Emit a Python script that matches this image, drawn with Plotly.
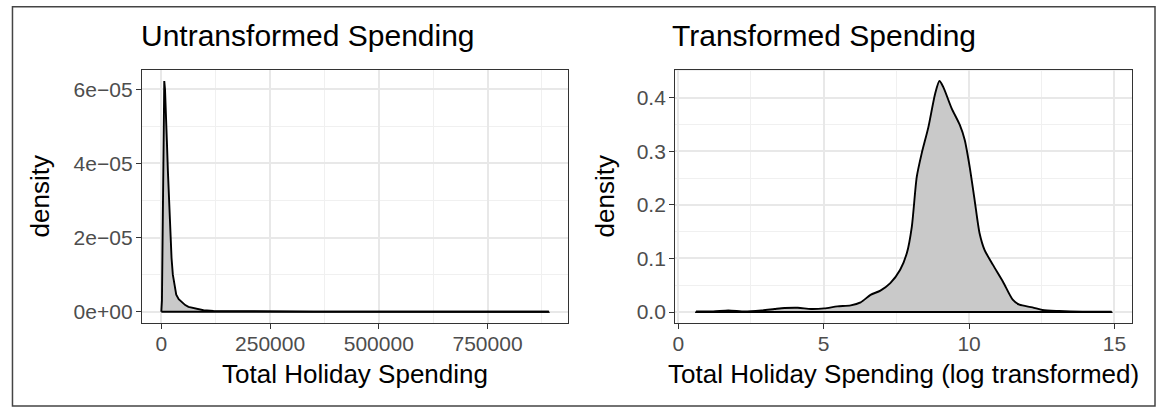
import plotly.graph_objects as go

# Density of total holiday spending (raw dollars)
raw_x = [2, 1400, 3500, 5500, 6800, 8500, 10500, 12800, 15100, 17800, 20600,
         23500, 26500, 30000, 34300, 40000, 47100, 55000, 62400, 74000, 82000,
         90000, 97000, 120000, 150000, 200000, 260000, 350000, 450000, 550000,
         650000, 750000, 891000]
raw_density = [0.0, 0.3e-5, 2.6e-5, 5.2e-5, 6.22e-5, 6.0e-5, 5.5e-5, 4.6e-5,
               3.8e-5, 2.9e-5, 2.05e-5, 1.45e-5, 1.0e-5, 0.7e-5, 0.46e-5,
               0.34e-5, 0.26e-5, 0.18e-5, 0.13e-5, 0.1e-5, 0.09e-5, 0.06e-5,
               0.04e-5, 0.025e-5, 0.02e-5, 0.012e-5, 0.008e-5, 0.005e-5,
               0.003e-5, 0.002e-5, 0.0015e-5, 0.001e-5, 0.0005e-5]

# Density of log-transformed spending
log_x = [0.61, 1.2, 1.72, 2.29, 2.86, 3.31, 3.65, 4.11, 4.56, 5.02, 5.47, 5.93,
         6.27, 6.61, 6.95, 7.29, 7.63, 7.86, 8.03, 8.20, 8.37, 8.60, 8.83,
         8.98, 9.11, 9.40, 9.68, 9.85, 10.02, 10.19, 10.36, 10.53, 10.82,
         11.16, 11.50, 11.73, 12.18, 12.52, 13.09, 13.89, 14.90]
log_density = [0.001, 0.001, 0.003, 0.001, 0.003, 0.0056, 0.0074, 0.008,
               0.0056, 0.0068, 0.0105, 0.0124, 0.018, 0.032, 0.040, 0.054,
               0.079, 0.110, 0.159, 0.252, 0.296, 0.345, 0.407, 0.431, 0.420,
               0.380, 0.349, 0.321, 0.271, 0.209, 0.147, 0.116, 0.088, 0.057,
               0.023, 0.0136, 0.0087, 0.0037, 0.0019, 0.0006, 0.0005]

raw_ticks = [0, 250000, 500000, 750000]
raw_tick_text = ["0", "250000", "500000", "750000"]
raw_y_ticks = [0, 2e-5, 4e-5, 6e-5]
raw_y_text = ["0e+00", "2e\u221205", "4e\u221205", "6e\u221205"]
log_ticks = [0, 5, 10, 15]
log_y_ticks = [0.0, 0.1, 0.2, 0.3, 0.4]
log_y_text = ["0.0", "0.1", "0.2", "0.3", "0.4"]

W, H = 1159, 407
FONT = "Liberation Sans, Arial, sans-serif"
FILL = "#C9C9C9"


def px(x):
    return x / W


def py(y):
    return 1 - y / H


def expanded(vals, lo=None):
    lo = min(vals) if lo is None else lo
    hi = max(vals)
    span = hi - lo
    return [lo - 0.05 * span, hi + 0.05 * span]


fig = go.Figure()

curves = [(raw_x, raw_density, "", "linear"), (log_x, log_density, "2", "spline")]
for xs, ys, ax, shape in curves:
    # shaded area under the density curve
    fig.add_trace(go.Scatter(
        x=xs, y=ys, mode="lines", fill="tozeroy", fillcolor=FILL,
        line=dict(color="black", width=1.9, shape=shape, smoothing=0.7),
        hoverinfo="skip", showlegend=False, xaxis="x" + ax, yaxis="y" + ax))
    # baseline of the density polygon
    fig.add_trace(go.Scatter(
        x=[xs[0], xs[0], xs[-1], xs[-1]], y=[ys[0], 0, 0, ys[-1]],
        mode="lines", line=dict(color="black", width=1.9),
        hoverinfo="skip", showlegend=False, xaxis="x" + ax, yaxis="y" + ax))

panel_top, panel_bot = 69.5, 323.3
dom1 = [px(139.3), px(566.7)]
dom2 = [px(674.0), px(1132.3)]
ydom = [py(panel_bot), py(panel_top)]

axis_common = dict(
    showline=True, mirror=True, linecolor="#333333", linewidth=1.3,
    ticks="outside", ticklen=5, tickcolor="#333333", tickwidth=1.2,
    showgrid=True, gridcolor="#E8E8E8", gridwidth=1.5, zeroline=False,
    tickfont=dict(family=FONT, size=21, color="#4D4D4D"),
    fixedrange=True,
)
minor_common = dict(showgrid=True, gridcolor="#F0F0F0", gridwidth=1.0, ticks="")

fig.update_layout(
    width=W, height=H, margin=dict(l=0, r=0, t=0, b=0),
    paper_bgcolor="white", plot_bgcolor="white",
    xaxis=dict(domain=dom1, anchor="y", range=expanded(raw_x, 0),
               tickvals=raw_ticks, ticktext=raw_tick_text, ticklabelstandoff=-4,
               minor=dict(tick0=0, dtick=125000, **minor_common),
               **axis_common),
    yaxis=dict(domain=ydom, anchor="x", range=expanded(raw_density),
               tickvals=raw_y_ticks, ticktext=raw_y_text, ticklabelstandoff=-1,
               minor=dict(tick0=0, dtick=1e-5, **minor_common),
               **axis_common),
    xaxis2=dict(domain=dom2, anchor="y2", range=expanded(log_x),
                tickvals=log_ticks, ticktext=[str(t) for t in log_ticks],
                ticklabelstandoff=-4,
                minor=dict(tick0=0, dtick=2.5, **minor_common),
                **axis_common),
    yaxis2=dict(domain=ydom, anchor="x2", range=expanded(log_density),
                tickvals=log_y_ticks, ticktext=log_y_text, ticklabelstandoff=-1,
                minor=dict(tick0=0, dtick=0.05, **minor_common),
                **axis_common),
)

ann = []
# panel titles
ann.append(dict(text="Untransformed Spending", x=px(136), y=py(36),
                xanchor="left", yanchor="middle",
                font=dict(family=FONT, size=30, color="black")))
ann.append(dict(text="Transformed Spending", x=px(669), y=py(36),
                xanchor="left", yanchor="middle",
                font=dict(family=FONT, size=30, color="black")))
# axis titles
ann.append(dict(text="Total Holiday Spending", x=px(353), y=py(374),
                xanchor="center", yanchor="middle",
                font=dict(family=FONT, size=26, color="black")))
ann.append(dict(text="Total Holiday Spending (log transformed)", x=px(903),
                y=py(374), xanchor="center", yanchor="middle",
                font=dict(family=FONT, size=26, color="black")))
ann.append(dict(text="density", x=px(37), y=py(196.5), textangle=-90,
                xanchor="center", yanchor="middle",
                font=dict(family=FONT, size=26, color="black")))
ann.append(dict(text="density", x=px(603.5), y=py(196.5), textangle=-90,
                xanchor="center", yanchor="middle",
                font=dict(family=FONT, size=26, color="black")))
for a in ann:
    a.update(xref="paper", yref="paper", showarrow=False)
fig.update_layout(annotations=ann)

# outer frame
fig.add_shape(type="rect", xref="paper", yref="paper",
              x0=px(9.5), x1=px(1155), y0=py(406), y1=py(6.7),
              line=dict(color="#444444", width=1.5), layer="above")

fig.write_html("out.html")
